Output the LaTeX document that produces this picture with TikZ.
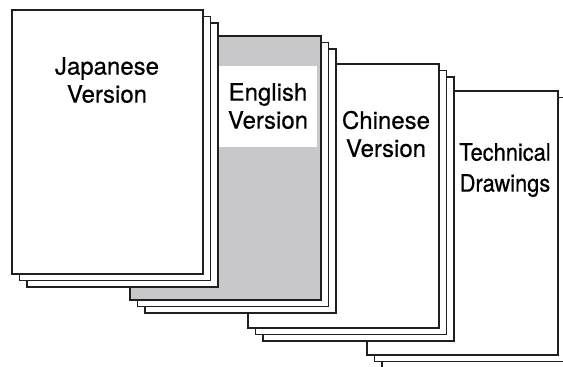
\documentclass[tikz,border=0pt]{standalone}
\usepackage{fontspec}
\setmainfont{TeX Gyre Heros}
\newfontfamily\titlefont{TeX Gyre Heros}[FakeBold=0.5]
\usepackage{tikz}
\definecolor{ColorXam}{RGB}{200,200,202}
\colorlet{ColorVien}{black!88}
\tikzset{
  pagebox/.style={draw=ColorVien, fill=white, line width=1.8pt},
  coverbox/.style={draw=ColorVien, fill=white, line width=2.7pt},
  booktitle/.style={align=center, inner sep=0pt, font=\titlefont\fontsize{24}{28}\selectfont}
}

\begin{document}
\begin{tikzpicture}[x=1pt,y=-1pt]
        \useasboundingbox (0,0) rectangle (563,367);
        \clip (0,0) rectangle (563,367);
        %Technical Drawings
        \foreach \k in {2,1}
          \filldraw[pagebox] ({367+7.5*\k},{91+6.5*\k}) rectangle +(191,264);
        \filldraw[coverbox] (367,91) rectangle +(191,264);
        \node[booktitle, font=\titlefont\fontsize{24}{31}\selectfont] (td) at (505,170)
          {\scalebox{0.91}[1]{Technical}\\\scalebox{0.91}[1]{Drawings}};
        %Chinese Version
        \foreach \k in {2,1}
          \filldraw[pagebox] ({248+7.5*\k},{64+6.5*\k}) rectangle +(191,264);
        \filldraw[coverbox] (248,64) rectangle +(191,264);
        \node[booktitle] (cn) at (386,134) {Chinese\\Version};
        %English Version
        \foreach \k in {2,1}
          \filldraw[pagebox] ({130+7.5*\k},{36+6.5*\k}) rectangle +(191,264);
        \filldraw[coverbox, fill=ColorXam] (130,36) rectangle +(191,264);
        \fill[white] (219,66) rectangle (317,147);
        \node[booktitle] (en) at (268,106) {English\\Version};
        %Japanese Version
        \foreach \k in {2,1}
          \filldraw[pagebox] ({12+7.5*\k},{10+6.5*\k}) rectangle +(191,264);
        \filldraw[coverbox] (12,10) rectangle +(191,264);
        \node[booktitle] (jp) at (107,80) {Japanese\\Version};
\end{tikzpicture}
\end{document}
